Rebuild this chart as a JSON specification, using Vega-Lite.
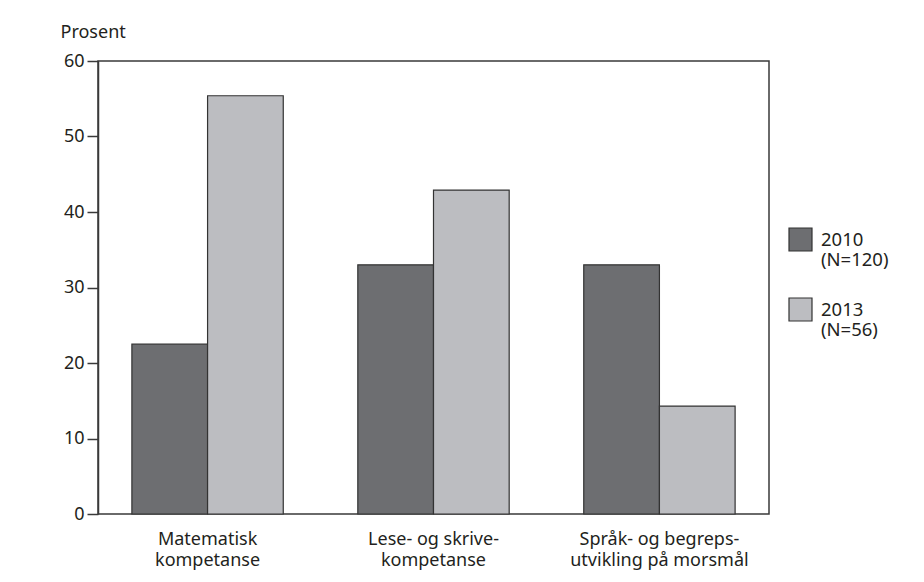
{
  "$schema": "https://vega.github.io/schema/vega-lite/v6.json",
  "autosize": {"type": "none"},
  "width": 671,
  "height": 453,
  "padding": {"left": 98, "top": 61, "right": 155, "bottom": 68},
  "background": "white",
  "data": {
    "values": [
      {"kategori": "Matematisk kompetanse", "år": "2010", "prosent": 22.5},
      {"kategori": "Matematisk kompetanse", "år": "2013", "prosent": 55.4},
      {"kategori": "Lese- og skrivekompetanse", "år": "2010", "prosent": 33.0},
      {"kategori": "Lese- og skrivekompetanse", "år": "2013", "prosent": 42.9},
      {"kategori": "Språk- og begrepsutvikling på morsmål", "år": "2010", "prosent": 33.0},
      {"kategori": "Språk- og begrepsutvikling på morsmål", "år": "2013", "prosent": 14.3}
    ]
  },
  "mark": {"type": "bar", "stroke": "#333333", "strokeWidth": 1.2},
  "encoding": {
    "x": {
      "field": "kategori",
      "type": "nominal",
      "sort": null,
      "scale": {"paddingInner": 0.33, "paddingOuter": 0.15},
      "axis": {
        "title": null,
        "ticks": false,
        "domain": false,
        "labelAngle": 0,
        "labelBaseline": "top",
        "labelPadding": 16,
        "labelLineHeight": 21,
        "labelExpr": "datum.value == 'Matematisk kompetanse' ? ['Matematisk', 'kompetanse'] : datum.value == 'Lese- og skrivekompetanse' ? ['Lese- og skrive-', 'kompetanse'] : ['Språk- og begreps-', 'utvikling på morsmål']"
      }
    },
    "xOffset": {"field": "år", "type": "nominal", "scale": {"paddingInner": 0, "paddingOuter": 0}},
    "y": {
      "field": "prosent",
      "type": "quantitative",
      "scale": {"domain": [0, 60], "nice": false},
      "axis": {
        "title": "Prosent",
        "titleAngle": 0,
        "titleAlign": "left",
        "titleBaseline": "alphabetic",
        "titleX": -38,
        "titleY": -24,
        "titleFontWeight": "normal",
        "grid": false,
        "values": [0, 10, 20, 30, 40, 50, 60],
        "tickSize": 11,
        "labelPadding": 3
      }
    },
    "fill": {
      "field": "år",
      "type": "nominal",
      "scale": {"domain": ["2010", "2013"], "range": ["#6d6e71", "#bcbdc1"]},
      "legend": {
        "title": null,
        "orient": "none",
        "legendX": 690,
        "legendY": 166,
        "symbolType": "square",
        "symbolSize": 529,
        "symbolStrokeColor": "#333333",
        "symbolStrokeWidth": 1.2,
        "symbolOpacity": 1,
        "rowPadding": 25,
        "labelOffset": 8,
        "labelBaseline": "middle",
        "labelLineHeight": 19,
        "labelExpr": "datum.label == '2010' ? ['2010', '(N=120)'] : ['2013', '(N=56)']"
      }
    }
  },
  "config": {
    "font": "Noto Sans",
    "view": {"stroke": "#3a3a3a", "strokeWidth": 1.5},
    "axis": {
      "labelFont": "Noto Sans",
      "labelFontSize": 18,
      "labelColor": "#231f20",
      "titleFont": "Noto Sans",
      "titleFontSize": 18,
      "titleColor": "#231f20",
      "domainColor": "#3a3a3a",
      "domainWidth": 1.5,
      "tickColor": "#3a3a3a",
      "tickWidth": 1.5
    },
    "legend": {
      "labelFont": "Noto Sans",
      "labelFontSize": 18.5,
      "labelColor": "#231f20"
    }
  }
}
